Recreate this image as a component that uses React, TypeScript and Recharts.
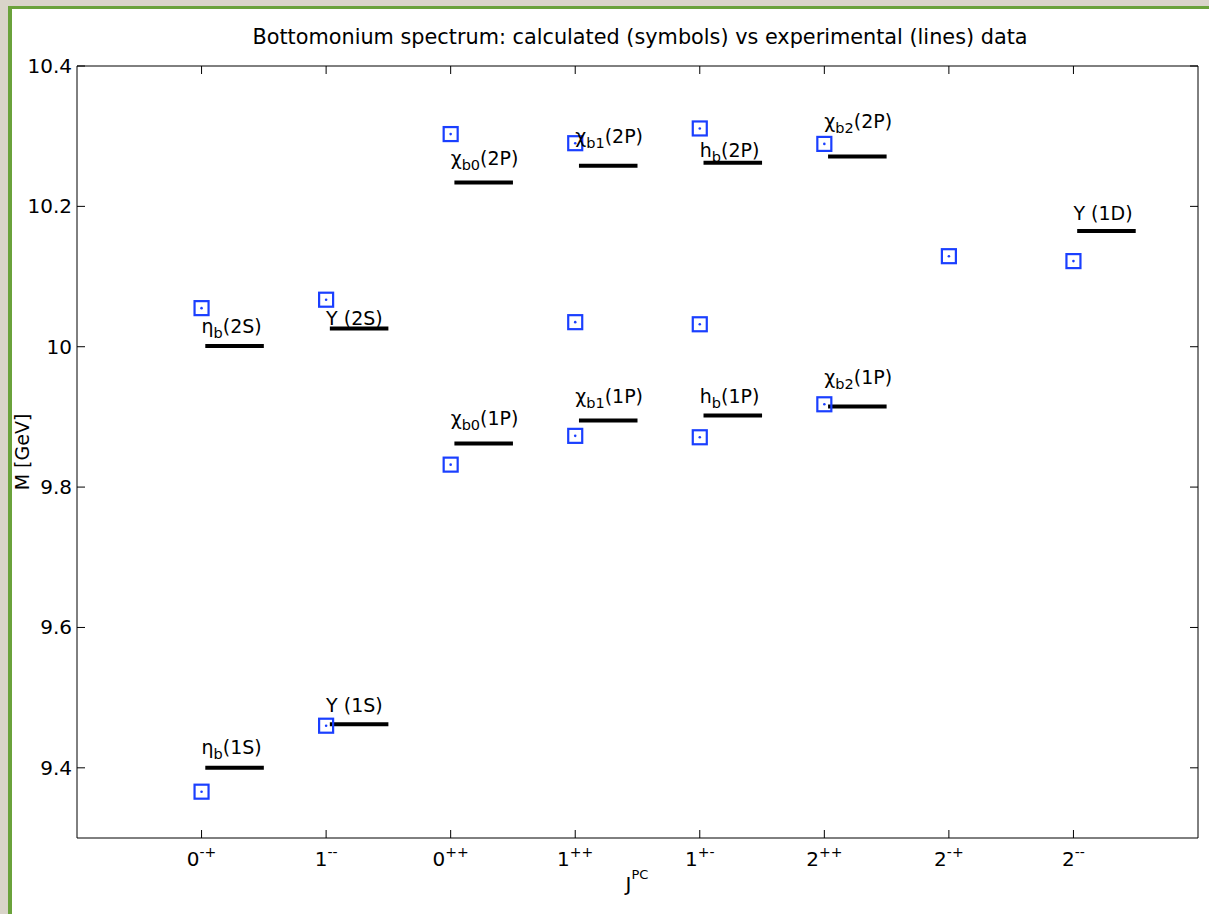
import React from 'react';
import { ComposedChart, Scatter, XAxis, YAxis, ReferenceLine } from 'recharts';

// J^PC categories along the x axis (index = x position)
const categories = ['0-+', '1--', '0++', '1++', '1+-', '2++', '2-+', '2--'];
const categoryTicks = [0, 1, 2, 3, 4, 5, 6, 7];
const massTicks = [9.4, 9.6, 9.8, 10, 10.2, 10.4];
const massTickLabels = ['9.4', '9.6', '9.8', '10', '10.2', '10.4'];

// calculated masses (symbols)
const calcJpc = [0, 0, 1, 1, 2, 2, 3, 3, 3, 4, 4, 4, 5, 5, 6, 7];
const calcMass = [
  10.055, 9.366, 10.067, 9.46, 10.303, 9.832, 10.29, 10.035, 9.873, 10.311, 10.032, 9.871, 10.289, 9.918,
  10.129, 10.122,
];

// experimental masses (lines) with their state names
const expNames = [
  'η_b(1S)', 'η_b(2S)', 'Υ (1S)', 'Υ (2S)', 'χ_b0(1P)', 'χ_b0(2P)', 'χ_b1(1P)', 'χ_b1(2P)',
  'h_b(1P)', 'h_b(2P)', 'χ_b2(1P)', 'χ_b2(2P)', 'Υ (1D)',
];
const expJpc = [0, 0, 1, 1, 2, 2, 3, 3, 4, 4, 5, 5, 7];
const expMass = [9.4, 10.001, 9.462, 10.026, 9.862, 10.234, 9.895, 10.258, 9.902, 10.262, 9.915, 10.271, 10.165];
// where each name is written
const labelMass = [9.42, 10.02, 9.48, 10.031, 9.889, 10.259, 9.92, 10.29, 9.92, 10.27, 9.947, 10.312, 10.181];

const calcData = calcJpc.map((x, i) => ({ x, m: calcMass[i] }));
const labelData = expJpc.map((x, i) => ({ x, m: labelMass[i], name: expNames[i] }));

const FONT = '"DejaVu Sans", sans-serif';
const BLUE = '#1a3fff';

function BoxMarker({ cx, cy }: any) {
  return (
    <g>
      <rect x={cx - 7} y={cy - 7} width={14} height={14} fill="none" stroke={BLUE} strokeWidth={2.2} />
      <circle cx={cx} cy={cy} r={1.3} fill={BLUE} />
    </g>
  );
}

function StateLabel({ cx, cy, payload }: any) {
  const name: string = payload.name;
  const m = name.match(/^(.)_([a-z0-9]+)(.*)$/);
  return (
    <text x={cx} y={cy} fontSize={19} fontFamily={FONT} fill="#000">
      {m ? (
        <>
          <tspan>{m[1]}</tspan>
          <tspan dy={5} fontSize={14.5}>{m[2]}</tspan>
          <tspan dy={-5}>{m[3]}</tspan>
        </>
      ) : (
        name
      )}
    </text>
  );
}

function BottomTick({ x, y, payload }: any) {
  const c = categories[payload.value];
  if (c === undefined) return null;
  return (
    <g>
      <line x1={x} x2={x} y1={y} y2={y - 8} stroke="#000" />
      <text x={x} y={y + 28} textAnchor="middle" fontSize={20} fontFamily={FONT} fill="#000">
        <tspan>{c[0]}</tspan>
        <tspan dy={-9} fontSize={14}>{c.slice(1)}</tspan>
      </text>
    </g>
  );
}

function TopTick({ x, y }: any) {
  return <line x1={x} x2={x} y1={y} y2={y + 8} stroke="#000" />;
}

function LeftTick({ x, y, payload }: any) {
  const i = massTicks.indexOf(payload.value);
  return (
    <g>
      <line x1={x} x2={x + 8} y1={y} y2={y} stroke="#000" />
      <text x={x - 5} y={y + 7} textAnchor="end" fontSize={20} fontFamily={FONT} fill="#000">
        {massTickLabels[i]}
      </text>
    </g>
  );
}

function RightTick({ x, y }: any) {
  return <line x1={x} x2={x - 8} y1={y} y2={y} stroke="#000" />;
}

export default function App() {
  return (
    <div style={{ position: 'absolute', left: 0, top: 0, width: 1209, height: 914, overflow: 'hidden', background: '#d9d4c9' }}>
      <div
        style={{
          position: 'absolute',
          left: 8,
          top: 6,
          width: 1220,
          height: 930,
          background: '#fff',
          borderLeft: '4px solid #6aa23b',
          borderTop: '3px solid #6aa23b',
        }}
      />
      <ComposedChart
        width={1209}
        height={914}
        margin={{ top: 56, right: 1, bottom: 46, left: 37 }}
        style={{ position: 'absolute', left: 0, top: 0 }}
      >
        <XAxis
          xAxisId="b"
          dataKey="x"
          type="number"
          domain={[-1, 8]}
          ticks={categoryTicks}
          interval={0}
          height={30}
          tickSize={0}
          tickMargin={0}
          tickLine={false}
          tick={<BottomTick />}
          axisLine={{ stroke: '#000' }}
          allowDataOverflow
        />
        <XAxis
          xAxisId="t"
          orientation="top"
          dataKey="x"
          type="number"
          domain={[-1, 8]}
          ticks={categoryTicks}
          interval={0}
          height={10}
          tickSize={0}
          tickMargin={0}
          tickLine={false}
          tick={<TopTick />}
          axisLine={{ stroke: '#000' }}
          allowDataOverflow
        />
        <YAxis
          yAxisId="l"
          dataKey="m"
          type="number"
          domain={[9.3, 10.4]}
          ticks={massTicks}
          interval={0}
          width={40}
          tickSize={0}
          tickMargin={0}
          tickLine={false}
          tick={<LeftTick />}
          axisLine={{ stroke: '#000' }}
          allowDataOverflow
        />
        <YAxis
          yAxisId="r"
          orientation="right"
          dataKey="m"
          type="number"
          domain={[9.3, 10.4]}
          ticks={massTicks}
          interval={0}
          width={10}
          tickSize={0}
          tickMargin={0}
          tickLine={false}
          tick={<RightTick />}
          axisLine={{ stroke: '#000' }}
          allowDataOverflow
        />
        {expMass.map((m, i) => (
          <ReferenceLine
            key={i}
            xAxisId="b"
            yAxisId="l"
            segment={[
              { x: expJpc[i] + 0.03, y: m },
              { x: expJpc[i] + 0.5, y: m },
            ]}
            stroke="#000"
            strokeWidth={4}
          />
        ))}
        <Scatter xAxisId="b" yAxisId="l" data={calcData} shape={<BoxMarker />} isAnimationActive={false} />
        <Scatter xAxisId="b" yAxisId="l" data={labelData} shape={<StateLabel />} isAnimationActive={false} />
      </ComposedChart>
      <svg width={1209} height={914} style={{ position: 'absolute', left: 0, top: 0, pointerEvents: 'none' }}>
        <text x={640} y={44} textAnchor="middle" fontSize={20.8} fontFamily={FONT} fill="#000">
          Bottomonium spectrum: calculated (symbols) vs experimental (lines) data
        </text>
        <text x={637} y={891} textAnchor="middle" fontSize={20} fontFamily={FONT} fill="#000">
          <tspan>J</tspan>
          <tspan dy={-12} fontSize={13}>PC</tspan>
        </text>
        <text
          x={29}
          y={452}
          textAnchor="middle"
          fontSize={19}
          fontFamily={FONT}
          fill="#000"
          transform="rotate(-90 29 452)"
        >
          M [GeV]
        </text>
      </svg>
    </div>
  );
}
